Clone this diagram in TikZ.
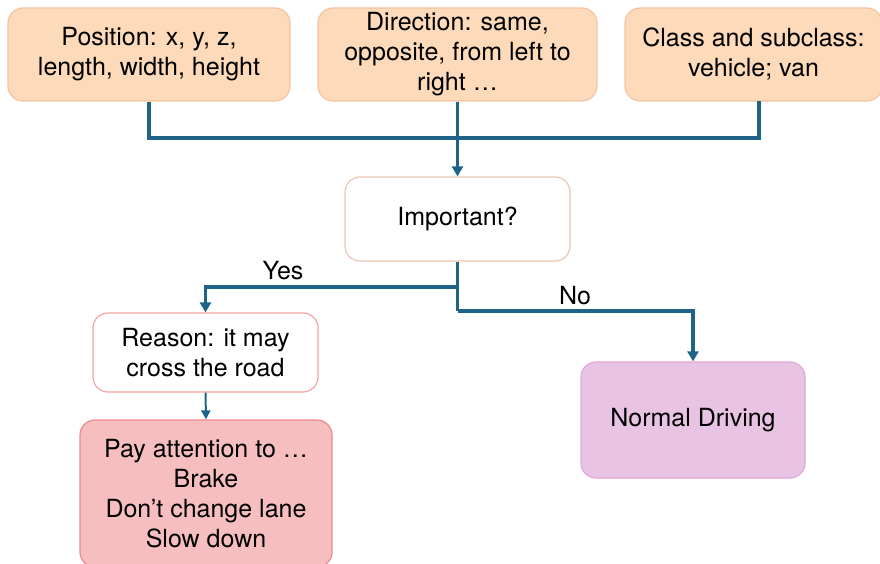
\documentclass[tikz,border=0pt]{standalone}
\usepackage{fontspec}
\setmainfont{TeX Gyre Heros}
\usetikzlibrary{arrows.meta}
\definecolor{peachfill}{HTML}{FCDABA}
\definecolor{peachline}{HTML}{F2C4A2}
\definecolor{impline}{HTML}{ECC6B4}
\definecolor{realine}{HTML}{F2A4A4}
\definecolor{payfill}{HTML}{F6BEBE}
\definecolor{payline}{HTML}{EE8A8A}
\definecolor{norfill}{HTML}{E9C3E4}
\definecolor{norline}{HTML}{E0A8DA}
\definecolor{flow}{HTML}{1D6488}
\tikzset{
  box/.style={rounded corners=15pt, line width=1.2pt, align=center, inner sep=0pt,
    font=\fontsize{25}{30}\selectfont},
  attr/.style={box, fill=peachfill, draw=peachline},
  link/.style={draw=flow, line width=3.4pt},
  arr/.style={link, -{Triangle[width=11pt,length=10pt]}},
  lbl/.style={font=\fontsize{25}{30}\selectfont, inner sep=0pt}
}
\begin{document}
\begin{tikzpicture}[x=1pt,y=-1pt]
\useasboundingbox (0,0) rectangle (880,564);
\node[attr, minimum width=282pt, minimum height=93pt] (pos) at (149,54.5) {Position: x, y, z,\\length, width, height};
\node[attr, minimum width=279pt, minimum height=93pt] (dir) at (457.5,54.5) {Direction: same,\\opposite, from left to\\right …};
\node[attr, minimum width=257pt, minimum height=93pt] (cls) at (753.5,54.5) {Class and subclass:\\vehicle; van};
\node[box, fill=white, draw=impline, minimum width=225pt, minimum height=84pt] (imp) at (457.5,219) {Important?};
\node[box, fill=white, draw=realine, minimum width=225pt, minimum height=79pt] (rea) at (205.5,352.5) {Reason: it may\\cross the road};
\node[box, fill=payfill, draw=payline, minimum width=252pt, minimum height=147pt] (pay) at (206,493.5) {Pay attention to …\\Brake\\Don’t change lane\\Slow down};
\node[box, fill=norfill, draw=norline, minimum width=224pt, minimum height=116pt] (nor) at (693,420) {Normal Driving};

\coordinate (bus) at (457.5,138);
\coordinate (clsfoot) at (759,101);
\coordinate (yes) at (457.5,287);
\coordinate (no) at (457.5,311);

\draw[link] (pos.south) |- (bus) -| (clsfoot);
\draw[arr] (dir.south) -- (imp.north);
\draw[arr] (imp.south) -- (yes) -| (rea.north);
\draw[link] (imp.south) -- (no);
\draw[arr] (no) -| (nor.north);
\draw[draw=flow, line width=2pt, -{Triangle[width=9pt,length=9pt]}] (rea.south) -- (pay.north);

\node[lbl] (ylbl) at (283,271) {Yes};
\node[lbl] (nlbl) at (575,296) {No};
\end{tikzpicture}
\end{document}
